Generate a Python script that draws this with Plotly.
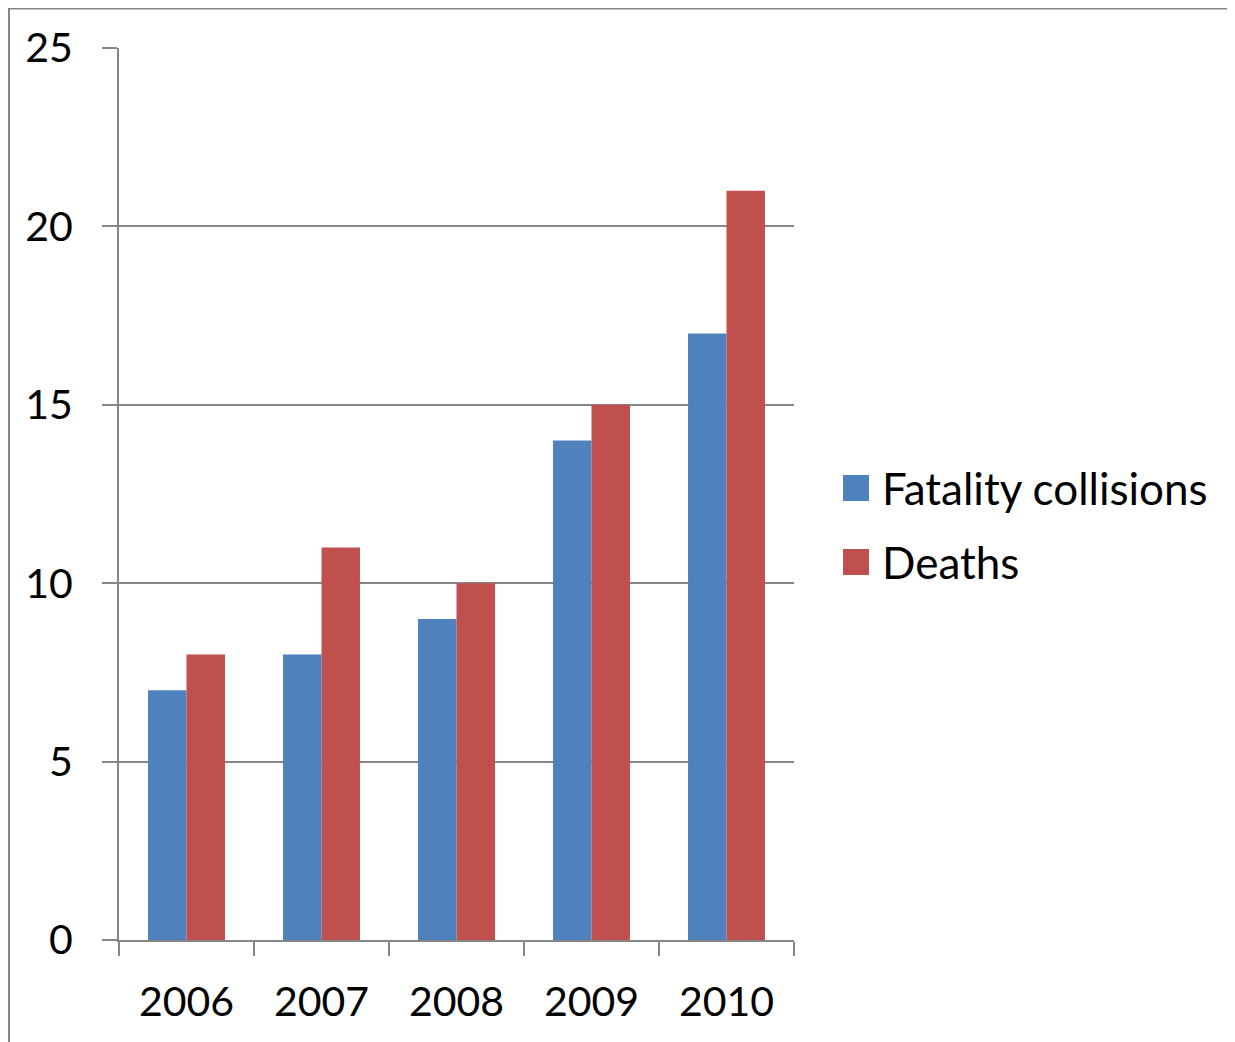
import plotly.graph_objects as go

years = ["2006", "2007", "2008", "2009", "2010"]
fatality_collisions = [7, 8, 9, 14, 17]
deaths = [8, 11, 10, 15, 21]
y_ticks = [0, 5, 10, 15, 20, 25]
series_names = ["Fatality collisions", "Deaths"]

BLUE = "#4F81BD"
RED = "#C0504D"
GRAY = "#868686"

W, H = 1235, 1042
L, R, T, B = 111, 786, 40, 932   # plot area in figure pixels

fig = go.Figure()
fig.add_trace(go.Bar(x=years, y=fatality_collisions, name=series_names[0],
                     marker=dict(color=BLUE, line=dict(width=0))))
fig.add_trace(go.Bar(x=years, y=deaths, name=series_names[1],
                     marker=dict(color=RED, line=dict(width=0))))

def px(x):
    return (x - L) / (R - L)

def py(y):
    return (B - y) / (B - T)

# custom legend (larger swatches than plotly's built-in legend allows)
shapes = [
    dict(type="line", xref="paper", yref="paper", x0=px(0), x1=px(1260), y0=py(0), y1=py(0),
         line=dict(color=GRAY, width=3)),
    dict(type="line", xref="paper", yref="paper", x0=px(1), x1=px(1), y0=py(0), y1=py(1060),
         line=dict(color=GRAY, width=2)),
]
annotations = []
for i, (name, col) in enumerate(zip(series_names, [BLUE, RED])):
    cy = 480 + i * 74
    shapes.append(dict(type="rect", xref="paper", yref="paper",
                       x0=px(835), x1=px(861), y0=py(cy - 13), y1=py(cy + 13),
                       fillcolor=col, line=dict(width=0)))
    annotations.append(dict(text=name, xref="paper", yref="paper", x=px(872), y=py(cy),
                            xanchor="left", yanchor="middle", showarrow=False,
                            font=dict(size=44, family="Lato", color="black")))

fig.update_layout(
    width=W, height=H,
    margin=dict(l=L, r=W - R, t=T, b=H - B, pad=0),
    paper_bgcolor="white", plot_bgcolor="white",
    font=dict(family="Lato", size=41, color="black"),
    barmode="group", bargap=0.43, bargroupgap=0,
    showlegend=False,
    xaxis=dict(type="category", showline=True, linecolor=GRAY, linewidth=2,
               ticks="outside", ticklen=14, tickcolor=GRAY, tickwidth=2,
               tickson="boundaries", showgrid=False, ticklabelstandoff=25),
    yaxis=dict(range=[0, 25], tickvals=y_ticks, showline=True, linecolor=GRAY,
               linewidth=2, ticks="outside", ticklen=15, tickcolor=GRAY, tickwidth=2,
               showgrid=True, gridcolor=GRAY, gridwidth=2, zeroline=False,
               ticklabelstandoff=21),
    shapes=shapes,
    annotations=annotations,
)

fig.write_html("out.html")
